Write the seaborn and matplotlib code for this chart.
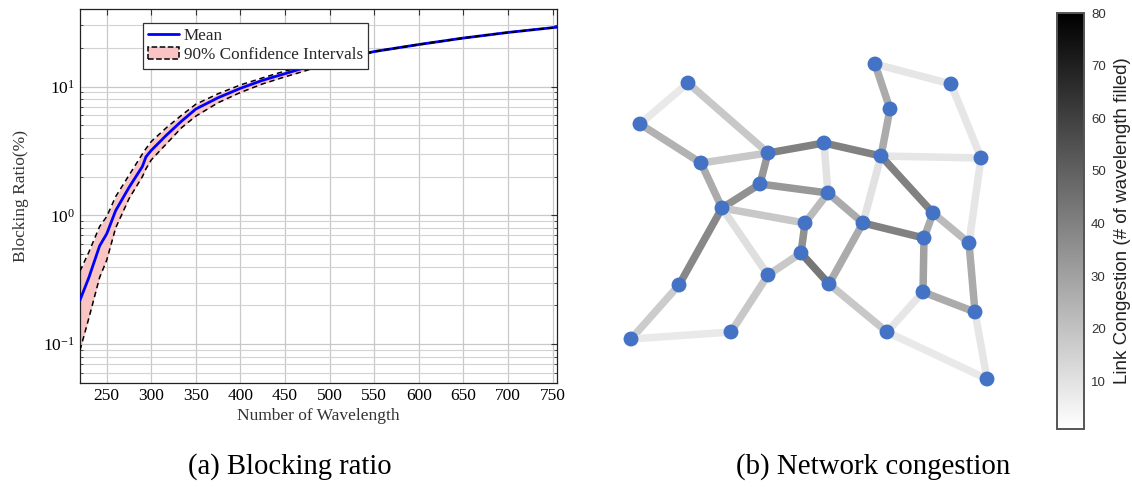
import numpy as np
import pandas as pd
import matplotlib
matplotlib.use("Agg")
import matplotlib.pyplot as plt
import seaborn as sns
from matplotlib.collections import LineCollection
from matplotlib.patches import Patch
from matplotlib.lines import Line2D
from matplotlib.ticker import LogLocator, NullFormatter, FixedLocator

# ---------------- data: (a) blocking ratio ----------------
wavelengths = [220, 230, 242, 250, 260, 275, 290, 294, 300, 317, 334, 350, 375,
               400, 425, 450, 475, 500, 550, 600, 650, 700, 755]
mean_ratio = [0.22, 0.33, 0.58, 0.72, 1.09, 1.65, 2.4, 2.85, 3.2, 4.2, 5.4, 6.7, 8.2,
              9.7, 11.2, 12.6, 14.2, 15.8, 18.7, 21.2, 23.8, 26.3, 28.9]
upper_ci = [0.37, 0.52, 0.82, 0.98, 1.4, 2.05, 3.0, 3.3, 3.75, 4.8, 6.0, 7.3, 8.8,
            10.3, 11.7, 13.2, 14.6, 16.1, 18.8, 21.3, 23.9, 26.4, 29.0]
lower_ci = [0.09, 0.16, 0.33, 0.45, 0.8, 1.35, 2.0, 2.3, 2.7, 3.6, 4.8, 5.9, 7.5,
            9.0, 10.5, 11.9, 13.4, 15.5, 18.6, 21.1, 23.7, 26.2, 28.8]
x_ticks = [250, 300, 350, 400, 450, 500, 550, 600, 650, 700, 750]

# ---------------- data: (b) network congestion ----------------
node_names = ["A", "B", "C", "D", "E", "F", "G", "H", "I", "J", "K", "L", "M", "N",
              "O", "P", "Q", "R", "S", "T", "U", "V", "W", "X", "Y", "Z", "AA", "AB"]
node_x = [688, 640, 701, 768, 824, 760, 828, 722, 805, 801, 768, 679, 631, 731,
          829, 863, 881, 890, 875, 951, 981, 933, 924, 969, 923, 975, 887, 987]
node_y = [83, 124, 163, 153, 143, 184, 193, 208, 223, 253, 275, 285, 339, 332,
          284, 223, 156, 109, 64, 84, 158, 213, 238, 243, 292, 312, 332, 379]
edge_src = ["A", "A", "B", "C", "C", "D", "D", "E", "E", "F", "F", "H", "H", "H",
            "G", "G", "I", "J", "J", "K", "L", "M", "O", "O", "P", "P", "Q", "Q",
            "Q", "R", "S", "T", "U", "V", "V", "W", "Y", "X", "Y", "AA", "Z"]
edge_dst = ["B", "D", "C", "D", "H", "E", "F", "G", "Q", "H", "G", "I", "L", "K",
            "I", "P", "J", "K", "O", "N", "M", "N", "P", "AA", "Q", "W", "R", "U",
            "V", "S", "T", "U", "X", "W", "X", "Y", "Z", "Z", "AA", "AB", "AB"]
edge_load = [8, 18, 25, 18, 27, 40, 33, 10, 40, 35, 33, 18, 38, 11,
             22, 27, 35, 18, 43, 18, 17, 8, 27, 18, 10, 40, 27, 9,
             40, 27, 9, 9, 9, 27, 22, 30, 27, 27, 9, 8, 9]
cbar_ticks = [10, 20, 30, 40, 50, 60, 70, 80]

# ---------------- style ----------------
sns.set_theme(style="whitegrid")
plt.rcParams["font.family"] = ["Liberation Serif", "DejaVu Serif"]
plt.rcParams["mathtext.fontset"] = "stix"

W, H = 1132, 487
fig = plt.figure(figsize=(W / 100, H / 100), dpi=100)
fig.patch.set_facecolor("white")

# ================= (a) =================
ax = fig.add_axes([80 / W, 1 - 383 / H, 477 / W, 374 / H])
ax.set_facecolor("white")
df = pd.DataFrame({"wl": wavelengths, "mean": mean_ratio,
                   "up": upper_ci, "lo": lower_ci})

ax.fill_between(df["wl"], df["lo"], df["up"], color="#f9c4c4", lw=0, zorder=2)
sns.lineplot(data=df, x="wl", y="up", ax=ax, color="black", lw=1.1,
             linestyle=(0, (3.5, 2.5)), zorder=4)
sns.lineplot(data=df, x="wl", y="lo", ax=ax, color="black", lw=1.1,
             linestyle=(0, (3.5, 2.5)), zorder=4)
sns.lineplot(data=df, x="wl", y="mean", ax=ax, color="#0000ff", lw=2.0, zorder=3)

ax.set_yscale("log")
ax.set_xlim(220, 755)
ax.set_ylim(0.05, 40)
ax.xaxis.set_major_locator(FixedLocator(x_ticks))
ax.yaxis.set_major_locator(LogLocator(base=10, numticks=10))
ax.yaxis.set_minor_locator(LogLocator(base=10, subs=np.arange(2, 10), numticks=10))
ax.yaxis.set_minor_formatter(NullFormatter())
ax.grid(True, which="major", color="#c8c8c8", lw=0.9)
ax.grid(True, which="minor", axis="y", color="#d2d2d2", lw=0.8)
ax.tick_params(axis="both", which="both", direction="in", colors="#333333",
               labelcolor="black", labelsize=12.5, top=True, right=True)
ax.tick_params(axis="both", which="major", length=4, width=0.8)
ax.tick_params(axis="y", which="minor", length=2.5, width=0.6, left=True, right=True)
for s in ax.spines.values():
    s.set_color("#222222")
    s.set_linewidth(0.9)
ax.set_xlabel("Number of Wavelength", fontsize=12.5, color="#333333", labelpad=3)
ax.set_ylabel("Blocking Ratio(%)", fontsize=12.5, color="#333333", labelpad=10)

handles = [Line2D([0], [0], color="#0000ff", lw=2.0),
           Patch(facecolor="#f9c4c4", edgecolor="black", linestyle="--", lw=1.1)]
leg = ax.legend(handles, ["Mean", "90% Confidence Intervals"], loc="upper left",
                bbox_to_anchor=(0.132, 0.963), fontsize=12.3, frameon=True,
                fancybox=False, framealpha=1, edgecolor="#333333",
                borderpad=0.3, handlelength=1.8, handletextpad=0.3,
                labelspacing=0.2, borderaxespad=0)
leg.get_frame().set_linewidth(0.9)
leg.set_zorder(10)

# ================= (b) =================
axn = fig.add_axes([600 / W, 1 - 400 / H, 410 / W, 350 / H])
axn.set_xlim(600, 1010)
axn.set_ylim(400, 50)
axn.axis("off")

pos = {n: (x, y) for n, x, y in zip(node_names, node_x, node_y)}
segs = [[pos[a], pos[b]] for a, b in zip(edge_src, edge_dst)]
cmap = plt.get_cmap("gray_r")
norm = matplotlib.colors.Normalize(vmin=1, vmax=80)
lc = LineCollection(segs, cmap=cmap, norm=norm, linewidths=5.4,
                    capstyle="butt", zorder=1)
lc.set_array(np.array(edge_load, dtype=float))
axn.add_collection(lc)

nodes_df = pd.DataFrame({"x": node_x, "y": node_y})
sns.scatterplot(data=nodes_df, x="x", y="y", ax=axn, s=115, color="#4472c4",
                edgecolor="none", zorder=3, legend=False)
axn.set_xlabel("")
axn.set_ylabel("")

# colorbar
cax = fig.add_axes([1057 / W, 1 - 429 / H, 27 / W, 416 / H])
cb = fig.colorbar(lc, cax=cax, ticks=cbar_ticks)
cb.outline.set_edgecolor("#555555")
cb.outline.set_linewidth(1.4)
cax.tick_params(direction="in", length=3, width=0.8, colors="#777777",
                labelcolor="#333333", labelsize=9.5, pad=5)
for t in cax.get_yticklabels():
    t.set_family(["Liberation Sans", "DejaVu Sans"])
cb.set_label("Link Congestion (# of wavelength filled)", fontsize=13.5,
             family=["Liberation Sans", "DejaVu Sans"], color="#222222", labelpad=6)

# captions
fig.text(290 / W, 1 - 467 / H, "(a) Blocking ratio", ha="center", va="center",
         fontsize=20.6, color="black")
fig.text(873 / W, 1 - 467 / H, "(b) Network congestion", ha="center", va="center",
         fontsize=20.8, color="black")

fig.savefig("out.png", dpi=100, facecolor="white")
